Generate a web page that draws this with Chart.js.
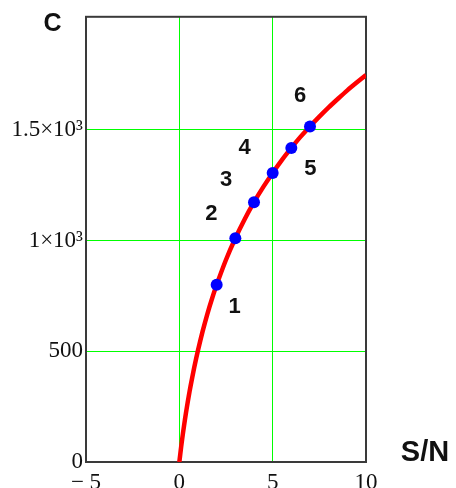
<!DOCTYPE html>
<html>
<head>
<meta charset="utf-8">
<script src="https://cdn.jsdelivr.net/npm/chart.js@4.4.1/dist/chart.umd.min.js"></script>
<style>
  html, body { margin: 0; padding: 0; background: #fff; }
</style>
</head>
<body>
<canvas id="capChart" width="456" height="488"></canvas>
<script>
// curve C(S/N)
const snrValues = [0, 0.05, 0.1, 0.2, 0.3, 0.4, 0.5, 0.6, 0.8, 1, 1.25, 1.5, 1.75, 2, 2.5, 3, 3.5, 4, 4.5, 5, 5.5, 6, 6.5, 7, 7.5, 8, 8.5, 9, 9.5, 10];
const capValues = [0, 35, 70, 133, 191, 245, 295, 342, 428, 505, 591, 668, 737, 800, 913, 1010, 1096, 1173, 1242, 1305, 1364, 1418, 1469, 1515, 1559, 1601, 1640, 1678, 1713, 1747];

// marked points 1..6
const markSnr = [2, 3, 4, 5, 6, 7];
const markCap = [800, 1010, 1173, 1305, 1418, 1515];
const markNames = ["1", "2", "3", "4", "5", "6"];

// axes
const xTicks = [-5, 0, 5, 10];
const yTicks = [0, 500, 1000, 1500];
const yTickLabels = ["0", "500", "1×10³", "1.5×10³"];

// where each number sits relative to its dot (px)
const nameOffsets = [[18, 21], [-24, -25], [-28, -23], [-28, -26], [19, 20], [-10, -32]];

const framePlugin = {
    id: "frame",
    beforeDatasetsDraw(chart) {
        const { ctx, chartArea: a } = chart;
        ctx.save();
        ctx.strokeStyle = "#3a3a3a";
        ctx.lineWidth = 2;
        ctx.strokeRect(a.left, a.top, a.right - a.left, a.bottom - a.top);
        ctx.restore();
    }
};

const textPlugin = {
    id: "texts",
    afterDraw(chart) {
        const { ctx } = chart;
        const xs = chart.scales.x, ys = chart.scales.y;
        ctx.save();
        ctx.fillStyle = "#111";
        ctx.textAlign = "center";
        ctx.textBaseline = "middle";

        // axis names
        ctx.font = "bold 25px 'Liberation Sans', Arial, sans-serif";
        ctx.fillText("C", 52.5, 24);
        ctx.font = "bold 29px 'Liberation Sans', Arial, sans-serif";
        ctx.fillText("S/N", 425, 453);

        // point numbers
        ctx.font = "bold 22px 'Liberation Sans', Arial, sans-serif";
        markNames.forEach((name, i) => {
            const px = xs.getPixelForValue(markSnr[i]) + nameOffsets[i][0];
            const py = ys.getPixelForValue(markCap[i]) + nameOffsets[i][1];
            ctx.fillText(name, px, py + 1);
        });
        ctx.restore();
    }
};

new Chart(document.getElementById("capChart"), {
    type: "scatter",
    data: {
        datasets: [
            {
                data: markSnr.map((v, i) => ({ x: v, y: markCap[i] })),
                showLine: false,
                pointRadius: 6,
                pointBackgroundColor: "#0000ff",
                pointBorderWidth: 0,
                order: 0
            },
            {
                data: snrValues.map((v, i) => ({ x: v, y: capValues[i] })),
                showLine: true,
                borderColor: "#ff0000",
                borderWidth: 4.5,
                pointRadius: 0,
                tension: 0.2,
                order: 1
            }
        ]
    },
    options: {
        responsive: false,
        animation: false,
        devicePixelRatio: 1,
        layout: { padding: { top: 15, right: 90, bottom: 0, left: 0 } },
        plugins: {
            legend: { display: false },
            tooltip: { enabled: false }
        },
        scales: {
            x: {
                type: "linear",
                min: -5,
                max: 10,
                afterBuildTicks: s => { s.ticks = xTicks.map(v => ({ value: v })); },
                afterFit: s => { s.height = 26; },
                grid: { color: "#00ff00", lineWidth: 1, drawTicks: false },
                border: { display: false },
                ticks: {
                    padding: 7,
                    color: "#111",
                    font: { family: "'Liberation Serif', 'Times New Roman', serif", size: 23 },
                    callback: v => (v < 0 ? "\u2212 " + Math.abs(v) : String(v))
                }
            },
            y: {
                type: "linear",
                min: 0,
                max: 2010,
                afterBuildTicks: s => { s.ticks = yTicks.map(v => ({ value: v })); },
                afterFit: s => { s.width = 86; },
                grid: { color: "#00ff00", lineWidth: 1, drawTicks: false },
                border: { display: false },
                ticks: {
                    padding: 3,
                    color: "#111",
                    font: { family: "'Liberation Serif', 'Times New Roman', serif", size: 23 },
                    callback: v => yTickLabels[yTicks.indexOf(v)]
                }
            }
        }
    },
    plugins: [framePlugin, textPlugin]
});
</script>
</body>
</html>
